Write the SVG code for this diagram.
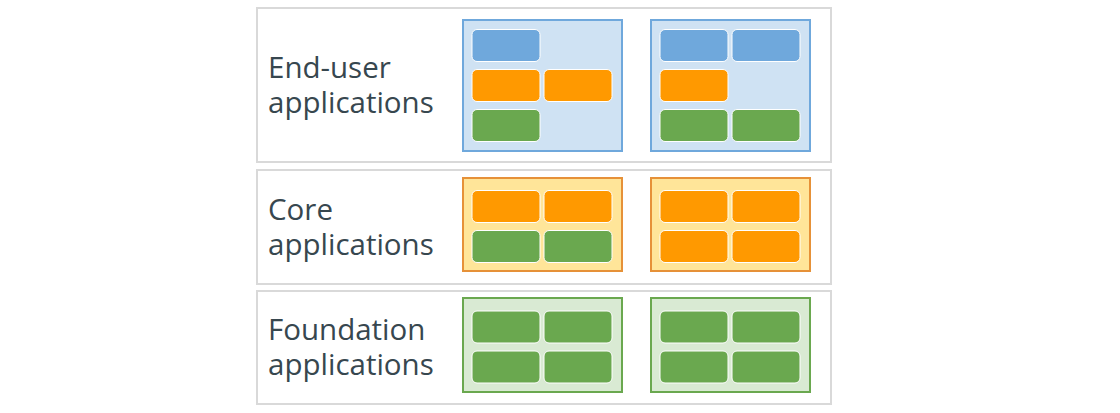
<svg xmlns="http://www.w3.org/2000/svg" width="1120" height="413" viewBox="0 0 1120 413">
<style>
.band{fill:#fff;stroke:#d9d9d9;stroke-width:2}
.lbl{font-family:"Open Sans","Noto Sans",sans-serif;font-size:29.5px;fill:#37474f}
.cb{fill:#cfe2f3;stroke:#6fa8dc;stroke-width:2}
.co{fill:#ffe599;stroke:#e69138;stroke-width:2}
.cg{fill:#d9ead3;stroke:#6aa84f;stroke-width:2}
.b,.o,.g{stroke:#fff;stroke-width:1;rx:5;ry:5}
.b{fill:#6fa8dc}.o{fill:#ff9900}.g{fill:#6aa84f}
</style>
<rect width="1120" height="413" fill="#fff"/>
<g id="band-enduser">
<rect class="band" x="257" y="8" width="574" height="154"/>
<text class="lbl" x="268" y="78">End-user</text>
<text class="lbl" x="268" y="113">applications</text>
</g>
<g id="enduser-app1">
<rect class="cb" x="463" y="20" width="159" height="131"/>
<rect class="b" x="472" y="29.5" width="68" height="32"/>
<rect class="o" x="472" y="69.5" width="68" height="32"/>
<rect class="o" x="544" y="69.5" width="68" height="32"/>
<rect class="g" x="472" y="109.5" width="68" height="32"/>
</g>
<g id="enduser-app2">
<rect class="cb" x="651" y="20" width="159" height="131"/>
<rect class="b" x="660" y="29.5" width="68" height="32"/>
<rect class="b" x="732" y="29.5" width="68" height="32"/>
<rect class="o" x="660" y="69.5" width="68" height="32"/>
<rect class="g" x="660" y="109.5" width="68" height="32"/>
<rect class="g" x="732" y="109.5" width="68" height="32"/>
</g>
<g id="band-core">
<rect class="band" x="257" y="170" width="574" height="114"/>
<text class="lbl" x="268" y="220">Core</text>
<text class="lbl" x="268" y="255">applications</text>
</g>
<g id="core-app1">
<rect class="co" x="463" y="178" width="159" height="93"/>
<rect class="o" x="472" y="190.5" width="68" height="32"/>
<rect class="o" x="544" y="190.5" width="68" height="32"/>
<rect class="g" x="472" y="230.5" width="68" height="32"/>
<rect class="g" x="544" y="230.5" width="68" height="32"/>
</g>
<g id="core-app2">
<rect class="co" x="651" y="178" width="159" height="93"/>
<rect class="o" x="660" y="190.5" width="68" height="32"/>
<rect class="o" x="732" y="190.5" width="68" height="32"/>
<rect class="o" x="660" y="230.5" width="68" height="32"/>
<rect class="o" x="732" y="230.5" width="68" height="32"/>
</g>
<g id="band-foundation">
<rect class="band" x="257" y="291" width="574" height="113"/>
<text class="lbl" x="268" y="340">Foundation</text>
<text class="lbl" x="268" y="375">applications</text>
</g>
<g id="foundation-app1">
<rect class="cg" x="463" y="298" width="159" height="94"/>
<rect class="g" x="472" y="311" width="68" height="32"/>
<rect class="g" x="544" y="311" width="68" height="32"/>
<rect class="g" x="472" y="351" width="68" height="32"/>
<rect class="g" x="544" y="351" width="68" height="32"/>
</g>
<g id="foundation-app2">
<rect class="cg" x="651" y="298" width="159" height="94"/>
<rect class="g" x="660" y="311" width="68" height="32"/>
<rect class="g" x="732" y="311" width="68" height="32"/>
<rect class="g" x="660" y="351" width="68" height="32"/>
<rect class="g" x="732" y="351" width="68" height="32"/>
</g>
<g id="connectors"/>
</svg>
